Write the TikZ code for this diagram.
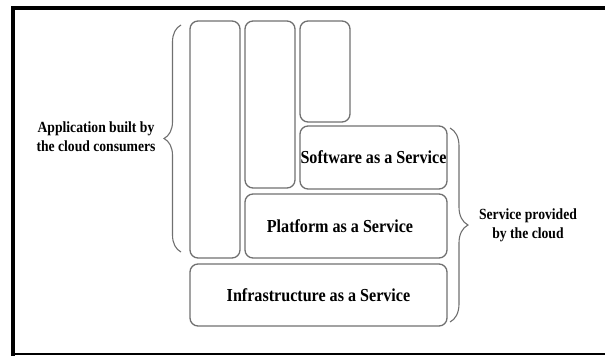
\documentclass[tikz,border=0pt]{standalone}
\usepackage{fontspec}
\setmainfont[FakeStretch=0.88]{Liberation Serif}
\usetikzlibrary{decorations.pathreplacing}
\definecolor{boxgray}{RGB}{112,112,112}
\begin{document}
\begin{tikzpicture}[x=1pt,y=-1pt,
  box/.style={draw=boxgray, line width=1.3pt, rounded corners=8pt, inner sep=0pt, outer sep=0pt,
    font=\fontsize{18.3}{20}\selectfont\bfseries},
  sidelabel/.style={align=center, inner sep=0pt, font=\fontsize{15.5}{19}\selectfont\bfseries},
  bracestyle/.style={draw=boxgray, line width=1.1pt, decorate, decoration={brace, amplitude=#1}},
]
\useasboundingbox (0,0) rectangle (605,356);
% frame
\draw[line width=4pt] (13,6) -- (13,356);
\draw[line width=3.5pt] (11.5,8) -- (605,8);
\draw[line width=2pt] (12,354) -- (605,354);
% boxes
\node[box, minimum width=50pt, minimum height=237pt] (b1) at (215,139.5) {};
\node[box, minimum width=50pt, minimum height=167pt] (b2) at (270,104.5) {};
\node[box, minimum width=50pt, minimum height=101pt] (b3) at (325,71.5) {};
\node[box, minimum width=147pt, minimum height=63pt] (saas) at (373.5,157.5) {Software as a Service};
\node[box, minimum width=202pt, minimum height=64pt] (paas) at (346,226) {Platform as a Service\hspace*{12pt}};
\node[box, minimum width=257pt, minimum height=62pt] (iaas) at (318.5,295) {Infrastructure as a Service};
% braces
\coordinate (lb1) at (181,252);
\coordinate (lb2) at (181,25);
\draw[bracestyle=17pt] (lb1) -- (lb2);
\coordinate (rb1) at (450,128);
\coordinate (rb2) at (450,322);
\draw[bracestyle=18pt] (rb1) -- (rb2);
% labels
\node[sidelabel] (app) at (96,136.5) {Application built by\\the cloud consumers};
\node[sidelabel] (srv) at (528,225) {Service provided\\by the cloud};
\end{tikzpicture}
\end{document}
